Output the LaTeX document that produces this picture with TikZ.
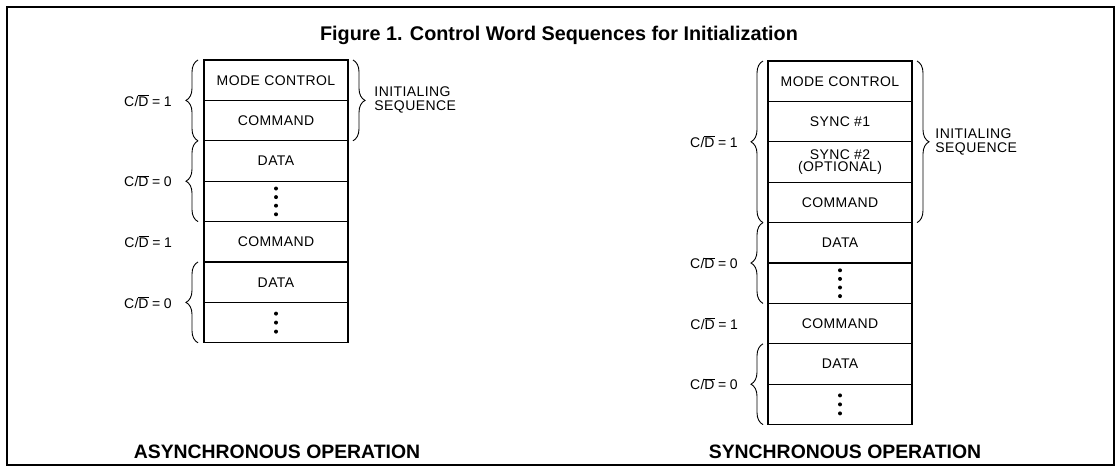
\documentclass[tikz,border=0pt]{standalone}
\usepackage{fontspec}
\setmainfont{Liberation Sans}
\newfontfamily\boxfont[LetterSpace=3]{Liberation Sans}
\usetikzlibrary{positioning,decorations.pathreplacing}

\newcommand{\cdeq}[1]{C/$\overline{\mbox{D}}$\hspace{0.25em}=\hspace{0.25em}#1}

\tikzset{
  cell/.style={draw, line width=1.1pt, minimum width=144pt, minimum height=40.4pt,
    outer sep=0pt, inner sep=1pt, align=center, font=\boxfont\fontsize{14}{12}\selectfont},
  curly/.style={decorate, decoration={brace, amplitude=12pt}, line width=0.9pt},
  cdlab/.style={inner sep=0pt, font=\boxfont\fontsize{14}{14}\selectfont},
  seqlab/.style={inner sep=0pt, align=left, font=\boxfont\fontsize{14}{14}\selectfont},
  optitle/.style={anchor=base, font=\bfseries\fontsize{19.4}{19.4}\selectfont},
}

\begin{document}
\begin{tikzpicture}[x=1pt, y=-1pt]
  \useasboundingbox (0,0) rectangle (1115,471);
  \draw[line width=1.2pt] (7,7) rectangle (1114,465);

  % title
  \node[anchor=base, font=\bfseries\fontsize{19.8}{19.8}\selectfont] (title) at (559,40)
    {Figure 1. Control Word Sequences for Initialization};

  % asynchronous stack
  \node[cell] (a1) at (276,80.2) {MODE CONTROL};
  \node[cell, below=0pt of a1] (a2) {COMMAND};
  \node[cell, below=0pt of a2] (a3) {DATA};
  \node[cell, below=0pt of a3] (a4) {};
  \node[cell, below=0pt of a4] (a5) {COMMAND};
  \node[cell, below=0pt of a5] (a6) {DATA};
  \node[cell, below=0pt of a6] (a7) {};
  \foreach \d in {-1.5,-0.5,0.5,1.5}
    \fill ([yshift=\d*8.6pt]a4.center) circle (2pt);
  \foreach \d in {-1,0,1}
    \fill ([yshift=\d*9pt]a7.center) circle (2pt);

  \draw[curly] ([xshift=-6pt]a2.south west) -- ([xshift=-6pt]a1.north west)
    node[cdlab, midway, left=26pt] (ca1) {\cdeq{1}};
  \draw[curly] ([xshift=-6pt]a4.south west) -- ([xshift=-6pt]a3.north west)
    node[cdlab, midway, left=26pt] (ca2) {\cdeq{0}};
  \node[cdlab, left=32pt of a5.west] (ca3) {\cdeq{1}};
  \draw[curly] ([xshift=-6pt]a7.south west) -- ([xshift=-6pt]a6.north west)
    node[cdlab, midway, left=26pt] (ca4) {\cdeq{0}};
  \draw[curly] ([xshift=5pt]a1.north east) -- ([xshift=5pt]a2.south east)
    node[seqlab, midway, right=21pt] (sqa) {INITIALING\\SEQUENCE};

  \node[optitle] (async) at (277,458) {ASYNCHRONOUS OPERATION};

  % synchronous stack
  \node[cell] (s1) at (840,81.2) {MODE CONTROL};
  \node[cell, below=0pt of s1] (s2) {SYNC \#1};
  \node[cell, below=0pt of s2] (s3) {SYNC \#2\\(OPTIONAL)};
  \node[cell, below=0pt of s3] (s4) {COMMAND};
  \node[cell, below=0pt of s4] (s5) {DATA};
  \node[cell, below=0pt of s5] (s6) {};
  \node[cell, below=0pt of s6] (s7) {COMMAND};
  \node[cell, below=0pt of s7] (s8) {DATA};
  \node[cell, below=0pt of s8] (s9) {};
  \foreach \d in {-1.5,-0.5,0.5,1.5}
    \fill ([yshift=\d*8.6pt]s6.center) circle (2pt);
  \foreach \d in {-1,0,1}
    \fill ([yshift=\d*9pt]s9.center) circle (2pt);

  \draw[curly] ([xshift=-5pt]s4.south west) -- ([xshift=-5pt]s1.north west)
    node[cdlab, midway, left=25pt] (cs1) {\cdeq{1}};
  \draw[curly] ([xshift=-5pt]s6.south west) -- ([xshift=-5pt]s5.north west)
    node[cdlab, midway, left=25pt] (cs2) {\cdeq{0}};
  \node[cdlab, left=30pt of s7.west] (cs3) {\cdeq{1}};
  \draw[curly] ([xshift=-5pt]s9.south west) -- ([xshift=-5pt]s8.north west)
    node[cdlab, midway, left=25pt] (cs4) {\cdeq{0}};
  \draw[curly] ([xshift=5pt]s1.north east) -- ([xshift=5pt]s4.south east)
    node[seqlab, midway, right=18pt] (sqs) {INITIALING\\SEQUENCE};

  \node[optitle] (sync) at (845,458) {SYNCHRONOUS OPERATION};
\end{tikzpicture}
\end{document}
